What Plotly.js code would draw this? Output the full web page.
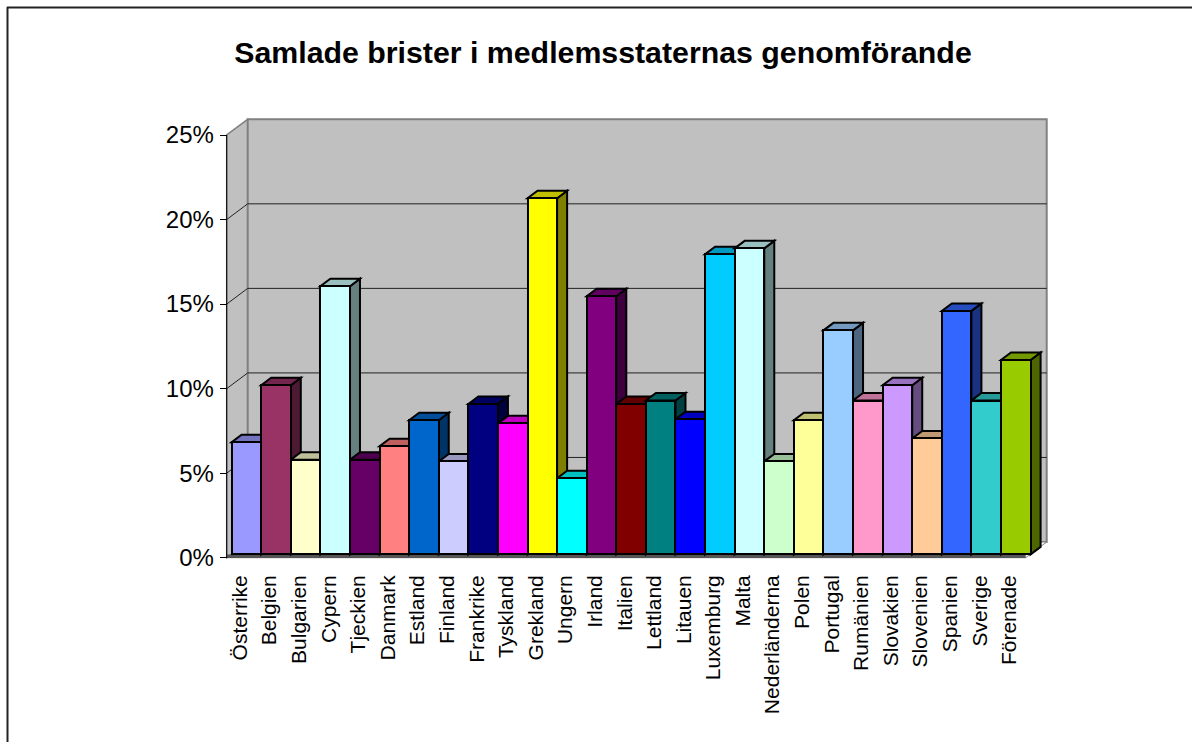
<!DOCTYPE html>
<html>
<head>
<meta charset="utf-8">
<script src="https://cdn.plot.ly/plotly-3.0.1.min.js"></script>
<style>html,body{margin:0;padding:0;background:#fff}#c{width:1192px;height:742px}</style>
</head>
<body>
<div id="c"></div>
<script>
const titleText = 'Samlade brister i medlemsstaternas genomförande';
const categories = ['Österrike','Belgien','Bulgarien','Cypern','Tjeckien','Danmark','Estland','Finland','Frankrike','Tyskland','Grekland','Ungern','Irland','Italien','Lettland','Litauen','Luxemburg','Malta','Nederländerna','Polen','Portugal','Rumänien','Slovakien','Slovenien','Spanien','Sverige','Förenade'];
const values = [6.63,10.0,5.6,15.86,5.6,6.4,7.93,5.5,8.9,7.75,21.06,4.5,15.27,8.9,9.1,8.0,17.75,18.1,5.5,7.93,13.25,9.1,10.0,6.86,14.4,9.1,11.5];
const colors = ['#9999FF','#993366','#FFFFCC','#CCFFFF','#660066','#FF8080','#0066CC','#CCCCFF','#000080','#FF00FF','#FFFF00','#00FFFF','#800080','#800000','#008080','#0000FF','#00CCFF','#CCFFFF','#CCFFCC','#FFFF99','#99CCFF','#FF99CC','#CC99FF','#FFCC99','#3366FF','#33CCCC','#99CC00'];
const yTicks = [0,5,10,15,20,25];
const yTickLabels = ['0%','5%','10%','15%','20%','25%'];

const W = 1192, H = 742;
const pxCat = 799/27, pxPct = 422.7/25;
const front = {x0:226.7, y0:557.7};
const barsO = {x0:231.6, y0:554.4};
const wallDX = 21/pxCat, wallDY = 15.7/pxPct;
const barDX = 10/pxCat, barDY = 7.5/pxPct;

const rangeX = (o,l,r)=>[(l-o.x0)/pxCat-0.5,(r-o.x0)/pxCat-0.5];
const rangeY = (o,b,t)=>[(o.y0-b)/pxPct,(o.y0-t)/pxPct];
const fx = p=>p/W, fy = p=>1-p/H;

function shade(hex,k){
  const n=parseInt(hex.slice(1),16);
  const c=[(n>>16)&255,(n>>8)&255,n&255].map(v=>Math.round(v*k));
  return 'rgb('+c.join(',')+')';
}
const polyPath = pts=>'M'+pts.map(p=>p[0]+','+p[1]).join(' L')+' Z';

const shapeList = [];
const xl=-0.5, xr=categories.length-0.5, yTop=yTicks[yTicks.length-1];
// walls and floor
const wallStyle={xref:'x',yref:'y',layer:'below',type:'path'};
shapeList.push({...wallStyle,path:polyPath([[xl,0],[xl+wallDX,wallDY],[xl+wallDX,yTop+wallDY],[xl,yTop]]),fillcolor:'#c0c0c0',line:{color:'#808080',width:1.5}});
shapeList.push({...wallStyle,path:polyPath([[xl+wallDX,wallDY],[xr+wallDX,wallDY],[xr+wallDX,yTop+wallDY],[xl+wallDX,yTop+wallDY]]),fillcolor:'#c0c0c0',line:{color:'#808080',width:2}});
shapeList.push({...wallStyle,path:polyPath([[xl,0],[xr,0],[xr+wallDX,wallDY],[xl+wallDX,wallDY]]),fillcolor:'#ffffff',line:{color:'#808080',width:1}});
// gridlines across the back and side walls
yTicks.slice(1,-1).forEach(v=>{
  shapeList.push({...wallStyle,type:'line',x0:xl,y0:v,x1:xl+wallDX,y1:v+wallDY,line:{color:'#222',width:1}});
  shapeList.push({...wallStyle,type:'line',x0:xl+wallDX,y0:v+wallDY,x1:xr+wallDX,y1:v+wallDY,line:{color:'#222',width:1}});
});
// floor band and front axis line
shapeList.push({xref:'x',yref:'y',layer:'below',type:'line',x0:xl,y0:0.09,x1:xr,y1:0.09,line:{color:'#555',width:3.5}});
shapeList.push({xref:'x',yref:'y',layer:'below',type:'line',x0:xl,y0:0,x1:xl,y1:yTop,line:{color:'#000',width:1}});
// 3D faces of the bars
values.forEach((v,i)=>{
  const c=colors[i], a=i-0.5, b=i+0.5;
  shapeList.push({type:'path',xref:'x2',yref:'y2',layer:'between',
    path:polyPath([[b,0],[b+barDX,barDY],[b+barDX,v+barDY],[b,v]]),
    fillcolor:shade(c,0.5),line:{color:'#000',width:2}});
  shapeList.push({type:'path',xref:'x2',yref:'y2',layer:'between',
    path:polyPath([[a,v],[b,v],[b+barDX,v+barDY],[a+barDX,v+barDY]]),
    fillcolor:shade(c,0.75),line:{color:'#000',width:2}});
});
// outer frame
shapeList.push({type:'line',xref:'paper',yref:'paper',x0:fx(7),y0:fy(7.5),x1:1,y1:fy(7.5),line:{color:'#222',width:2}});
shapeList.push({type:'line',xref:'paper',yref:'paper',x0:fx(7.5),y0:fy(7),x1:fx(7.5),y1:0,line:{color:'#222',width:2}});

const barTrace = {
  type:'bar', x:categories, y:values, xaxis:'x2', yaxis:'y2',
  width:1, marker:{color:colors,line:{color:'#000',width:2}},
  hoverinfo:'x+y'
};

const fontFam='"Liberation Sans", Arial, sans-serif';
const layoutObj = {
  width:W, height:H, margin:{l:0,r:0,t:0,b:0},
  paper_bgcolor:'#fff', plot_bgcolor:'rgba(0,0,0,0)',
  showlegend:false, bargap:0,
  title:{text:titleText,font:{family:fontFam,size:30.3,color:'#000',weight:'bold'},
    x:603/W,xanchor:'center',xref:'paper',y:1-52/H,yanchor:'middle',yref:'container'},
  xaxis:{domain:[fx(224),fx(1048)],range:rangeX(front,224,1048),
    tickmode:'array',tickvals:categories.map((_,i)=>i-0.05),ticktext:categories,
    tickangle:-90,ticks:'',showline:false,showgrid:false,zeroline:false,
    tickfont:{family:fontFam,size:21,color:'#000'},ticklabelstandoff:10,anchor:'y'},
  yaxis:{domain:[fy(560),fy(118)],range:rangeY(front,560,118),
    tickmode:'array',tickvals:yTicks,ticktext:yTickLabels,
    ticks:'outside',ticklen:7,tickcolor:'#000',tickwidth:1,
    showline:false,showgrid:false,zeroline:false,
    anchor:'free',position:fx(226.7),
    tickfont:{family:fontFam,size:24,color:'#000'},ticklabelstandoff:1},
  xaxis2:{domain:[fx(228),fx(1048)],range:rangeX(barsO,228,1048),type:'category',
    categoryorder:'array',categoryarray:categories,
    showticklabels:false,ticks:'',showline:false,showgrid:false,zeroline:false,anchor:'y2'},
  yaxis2:{domain:[fy(557),fy(118)],range:rangeY(barsO,557,118),
    showticklabels:false,ticks:'',showline:false,showgrid:false,zeroline:false,anchor:'x2'},
  shapes:shapeList
};
Plotly.newPlot('c',[barTrace],layoutObj,{displayModeBar:false,responsive:false});
</script>
</body>
</html>
